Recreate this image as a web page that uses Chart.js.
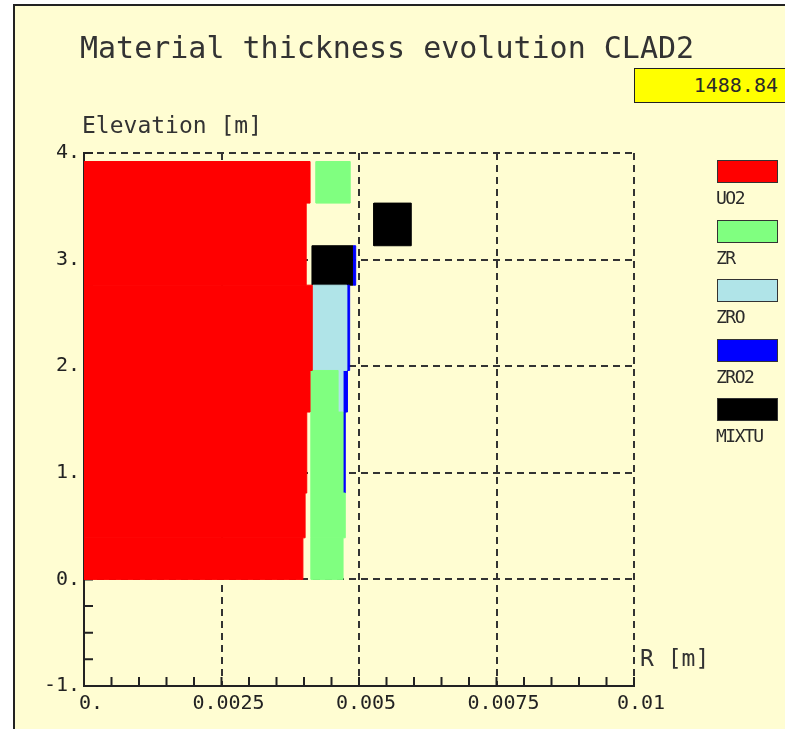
<!DOCTYPE html>
<html>
<head>
<meta charset="utf-8">
<script src="https://cdn.jsdelivr.net/npm/chart.js@4.4.1/dist/chart.umd.min.js"></script>
<style>
  html, body { margin: 0; padding: 0; background: #fff; overflow: hidden; }
  #page { position: relative; width: 785px; height: 729px; overflow: hidden; }
  #frame { position: absolute; left: 13px; top: 4px; width: 800px; height: 740px;
           background: #FFFDD2; border-left: 2px solid #222; border-top: 2px solid #222; }
  canvas { position: absolute; left: 0; top: 0; }
  .txt { position: absolute; font-family: 'DejaVu Sans Mono', monospace; color: #2a2a2a; white-space: nowrap; }
  #title { left: 80px; top: 33px; font-size: 30px; line-height: 30px; color: #333; }
  #ylab { left: 82px; top: 114px; font-size: 23px; line-height: 23px; color: #333; }
  #xlab { left: 640px; top: 647px; font-size: 23px; line-height: 23px; color: #333; }
  #time { left: 634px; top: 68px; width: 143px; height: 33px; padding-right: 16px;
          background: #FFFF00; border: 1px solid #222; text-align: right;
          font-size: 20px; line-height: 33px; }
  .lbox { position: absolute; left: 717px; width: 59px; height: 21px; border: 1px solid #333; }
  .ltxt { left: 716px; font-size: 18px; line-height: 18px; letter-spacing: -1.5px; }
</style>
</head>
<body>
<div id="page">
  <div id="frame"></div>
  <canvas id="chart" width="785" height="729"></canvas>
  <div class="txt" id="title">Material thickness evolution CLAD2</div>
  <div class="txt" id="time">1488.84</div>
  <div class="txt" id="ylab">Elevation [m]</div>
  <div class="txt" id="xlab">R [m]</div>
  <div id="legend"></div>
</div>
<script>
// axis ticks
const xTickLabels = ['0.', '0.0025', '0.005', '0.0075', '0.01'];
const yTickLabels = ['-1.', '0.', '1.', '2.', '3.', '4.'];

// materials (legend order)
const materialNames  = ['UO2', 'ZR', 'ZRO', 'ZRO2', 'MIXTU'];
const materialColors = ['#FF0000', '#80FF80', '#B0E4E8', '#0000FF', '#000000'];

// axial slices of each material: [z bottom, z top, r inner, r outer] in m
const uo2 = [
  [0.00, 0.39, 0, 0.00398],
  [0.39, 0.81, 0, 0.00402],
  [0.81, 1.57, 0, 0.00405],
  [1.57, 1.96, 0, 0.00411],
  [1.96, 2.76, 0, 0.00415],
  [2.76, 3.53, 0, 0.00404],
  [3.53, 3.92, 0, 0.00411]
];
const zr = [
  [0.00, 0.39, 0.00413, 0.00471],
  [0.39, 0.81, 0.00413, 0.00475],
  [0.81, 1.57, 0.00413, 0.00471],
  [1.57, 1.96, 0.00413, 0.00462],
  [3.53, 3.92, 0.00422, 0.00484]
];
const zro = [
  [1.57, 1.96, 0.00462, 0.00471],
  [1.96, 2.76, 0.00416, 0.00478]
];
const zro2 = [
  [0.81, 1.57, 0.00472, 0.00475],
  [1.57, 1.96, 0.00472, 0.00479],
  [1.96, 2.76, 0.00479, 0.00483],
  [2.76, 3.13, 0.00490, 0.00494]
];
const mixtu = [
  [2.76, 3.13, 0.00415, 0.00489],
  [3.13, 3.53, 0.00527, 0.00595]
];

const materialSlices = [uo2, zr, zro, zro2, mixtu];

// one closed polygon dataset per slice
const datasets = [];
materialSlices.forEach((slices, m) => {
  slices.forEach(([z0, z1, r0, r1]) => {
    datasets.push({
      label: materialNames[m],
      data: [{x: r0, y: z0}, {x: r1, y: z0}, {x: r1, y: z1}, {x: r0, y: z1}, {x: r0, y: z0}],
      showLine: true,
      fill: 'shape',
      backgroundColor: materialColors[m],
      borderColor: materialColors[m],
      borderWidth: 1,
      pointRadius: 0,
      tension: 0
    });
  });
});

// legend
const legend = document.getElementById('legend');
materialNames.forEach((name, i) => {
  const top = 160 + i * 59.5;
  legend.innerHTML += `<div class="lbox" style="top:${top}px;background:${materialColors[i]}"></div>` +
    `<div class="txt ltxt" style="top:${top + 29}px">${name}</div>`;
});

// small inward ticks on the left and bottom axes
const innerTicks = {
  id: 'innerTicks',
  beforeDatasetsDraw(chart) {
    const {ctx, scales: {x, y}} = chart;
    ctx.save();
    ctx.strokeStyle = '#222';
    ctx.lineWidth = 2;
    ctx.beginPath();
    for (let i = 0; i <= 20; i++) {
      const px = x.getPixelForValue(i * 0.0005);
      ctx.moveTo(px, y.bottom);
      ctx.lineTo(px, y.bottom - 9);
    }
    for (let i = 0; i <= 20; i++) {
      const py = y.getPixelForValue(-1 + i * 0.25);
      ctx.moveTo(x.left, py);
      ctx.lineTo(x.left + 9, py);
    }
    ctx.stroke();
    ctx.restore();
  }
};

const tickFont = {family: "'DejaVu Sans Mono', monospace", size: 20};

new Chart(document.getElementById('chart'), {
  type: 'scatter',
  data: {datasets: datasets},
  options: {
    responsive: false,
    animation: false,
    layout: {padding: {left: 0, top: 153, right: 151, bottom: 0}},
    plugins: {legend: {display: false}, tooltip: {enabled: false}},
    scales: {
      x: {
        type: 'linear', min: 0, max: 0.01,
        afterFit: s => { s.height = 43; },
        ticks: {stepSize: 0.0025, padding: 6, labelOffset: 7, maxRotation: 0, color: '#222', font: tickFont,
                callback: (v, i) => xTickLabels[i]},
        grid: {color: '#333', lineWidth: 2, drawTicks: false},
        border: {display: true, color: '#222', width: 2, dash: [7, 5]}
      },
      y: {
        type: 'linear', min: -1, max: 4,
        afterFit: s => { s.width = 84; },
        ticks: {stepSize: 1, padding: 4, color: '#222', font: tickFont,
                callback: (v, i) => yTickLabels[i]},
        grid: {color: '#333', lineWidth: 2, drawTicks: false},
        border: {display: true, color: '#222', width: 2, dash: [7, 5]}
      }
    }
  },
  plugins: [innerTicks]
});
</script>
</body>
</html>
